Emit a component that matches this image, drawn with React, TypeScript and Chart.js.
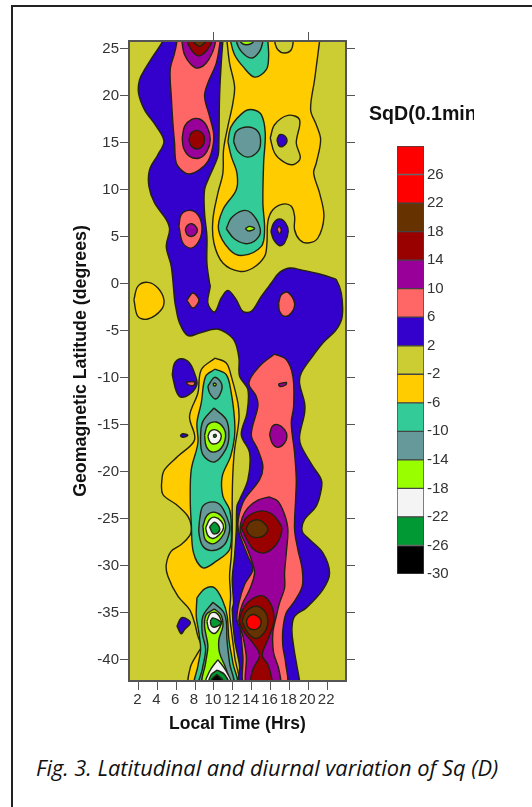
import React, { useEffect, useRef } from "react";
import { Chart, registerables } from "chart.js";

Chart.register(...registerables);

type P = [number, number];

// Colour levels, lowest to highest
const levelEdges = [-30, -26, -22, -18, -14, -10, -6, -2, 2, 6, 10, 14, 18, 22, 26, 30];
const levelColors = ["#000000", "#009933", "#F4F4F4", "#99FF00", "#669999", "#33CC99", "#FFCC00", "#CCCC33", "#3300CC", "#FF6666", "#990099", "#990000", "#663300", "#FF0000", "#FF0000"];
const [BLACK, GREEN, WHITE, LIME, GREY, TEAL, YELLOW, OLIVE, BLUE, SALMON, PURPLE, DKRED, BROWN, RED] = levelColors;

const hourTicks = [2, 4, 6, 8, 10, 12, 14, 16, 18, 20, 22];
const topTicks = [10, 20];
const latTicks = [25, 20, 15, 10, 5, 0, -5, -10, -15, -20, -25, -30, -35, -40];

// Contours: [local time, geomagnetic latitude]
const plotBase: P[] = [[0, -44], [25, -44], [25, 28], [0, 28]];
const blueMain: P[] = [[4.95, 26.67], [4.59, 25.81], [3.53, 24.18], [2.65, 22.77], [2.12, 21.7], [2.01, 20.28], [2.65, 18.5], [3.89, 16.74], [4.7, 15.14], [4.06, 13.72], [3.18, 12.13], [3.11, 10.35], [3.71, 8.58], [4.95, 6.81], [5.3, 5.74], [4.95, 3.97], [5.48, 1.84], [5.83, -1.7], [5.94, -2.41], [6.36, -4.18], [7.24, -5.53], [8.48, -5.25], [10.25, -4.82], [11.31, -5.25], [12.19, -6.13], [12.65, -7.91], [12.72, -9.86], [13.6, -11.28], [13.5, -13.76], [12.9, -16.06], [13.78, -18.0], [13.6, -20.85], [12.72, -22.98], [12.44, -23.67], [12.37, -26.16], [12.19, -28.99], [11.94, -31.47], [12.08, -33.96], [11.94, -34.67], [12.19, -37.86], [12.72, -40.69], [12.79, -42.82], [19.08, -42.82], [19.08, -42.25], [18.8, -40.69], [18.45, -38.57], [18.27, -36.79], [18.55, -35.38], [19.79, -34.49], [21.55, -32.54], [22.26, -30.77], [21.55, -28.64], [20.14, -27.22], [19.36, -26.33], [19.61, -25.09], [20.85, -23.67], [21.38, -21.9], [21.38, -20.85], [20.49, -19.43], [19.26, -17.3], [19.08, -16.24], [19.61, -13.76], [19.61, -12.69], [19.08, -10.57], [19.26, -9.5], [20.32, -7.91], [21.55, -6.31], [22.97, -4.89], [23.6, -3.47], [23.5, -0.99], [22.97, 0.43], [22.61, 0.6], [21.2, 1.03], [19.43, 1.42], [18.02, 1.67], [16.96, 1.2], [16.08, 0.07], [15.02, -1.35], [13.96, -2.94], [13.07, -2.94], [12.37, -1.7], [11.48, -0.71], [10.78, -1.52], [10.07, -3.01], [9.36, -2.06], [9.61, -0.28], [9.54, 0.07], [9.26, 2.2], [9.26, 5.03], [9.01, 7.52], [9.01, 10.0], [9.54, 11.42], [10.42, 13.54], [10.53, 14.96], [10.6, 19.93], [10.78, 23.47], [10.95, 25.81], [11.02, 26.67]];
const salmonNorth: P[] = [[6.08, 26.67], [6.08, 25.81], [5.83, 24.54], [5.37, 22.77], [5.48, 19.93], [5.65, 17.09], [5.83, 14.96], [6.01, 12.84], [6.71, 11.95], [7.42, 11.67], [8.48, 12.13], [9.36, 13.01], [9.89, 14.61], [9.96, 16.03], [9.54, 17.8], [9.01, 19.93], [9.36, 21.35], [10.25, 23.47], [10.67, 25.81], [10.78, 26.67]];
const purpleNorth: P[] = [[6.61, 26.67], [6.61, 25.81], [6.89, 24.36], [7.6, 23.3], [8.3, 22.94], [9.19, 23.47], [9.89, 24.72], [10.18, 25.81], [10.25, 26.67]];
const redNorth: P[] = [[7.17, 26.67], [7.17, 25.81], [7.6, 24.89], [8.3, 24.25], [9.01, 24.54], [9.54, 25.25], [9.79, 25.81], [9.82, 26.67]];
const brownNorth: P[] = [[7.84, 26.67], [7.84, 25.81], [8.48, 25.25], [9.12, 25.81], [9.12, 26.67]];
const purple15: P[] = [[6.64, 15.5], [6.89, 16.74], [7.6, 17.45], [8.48, 17.52], [9.26, 16.74], [9.61, 15.32], [9.26, 14.08], [8.48, 13.37], [7.42, 13.54], [6.78, 14.43]];
const red15: P[] = [[7.35, 15.39], [7.6, 16.03], [8.2, 16.31], [8.83, 15.96], [9.01, 15.32], [8.76, 14.61], [8.2, 14.33], [7.56, 14.68]];
const salmon5: P[] = [[6.29, 6.1], [6.54, 7.34], [7.42, 7.8], [8.3, 7.34], [8.73, 6.1], [8.48, 4.68], [7.6, 3.79], [6.71, 4.33]];
const purple5: P[] = [[6.96, 5.74], [7.17, 6.2], [7.67, 6.38], [8.2, 5.92], [8.2, 5.46], [7.7, 5.04], [7.17, 5.21]];
const salmonEq1: P[] = [[7.14, -1.77], [7.77, -0.99], [8.41, -1.77], [7.77, -2.59]];
const salmonEq2: P[] = [[16.86, -2.06], [17.14, -1.17], [17.84, -0.92], [18.55, -2.06], [18.2, -3.12], [17.49, -3.47], [16.96, -2.94]];
const blueS10: P[] = [[5.58, -9.68], [5.83, -8.44], [6.54, -7.98], [7.42, -8.44], [8.06, -9.86], [8.2, -10.74], [7.6, -11.63], [6.54, -12.09], [6.01, -11.45]];
const salmonS10: P[] = [[7.07, -10.46], [7.95, -10.46], [7.84, -10.82], [7.24, -10.74]];
const salmonSouth: P[] = [[16.43, -7.48], [17.67, -8.08], [18.37, -9.86], [18.45, -13.05], [18.2, -14.82], [18.55, -18.01], [18.73, -20.85], [18.66, -22.96], [18.55, -26.16], [18.9, -28.28], [19.36, -30.41], [19.36, -32.18], [18.55, -33.78], [17.67, -35.02], [17.31, -36.79], [17.31, -38.57], [17.6, -40.34], [17.6, -42.82], [13.36, -42.82], [13.07, -39.63], [12.79, -36.79], [12.44, -35.73], [12.65, -33.96], [13.25, -32.01], [14.13, -30.41], [13.6, -28.99], [12.72, -26.69], [12.54, -25.62], [12.72, -24.38], [13.25, -22.96], [14.84, -20.85], [15.19, -19.43], [14.66, -17.66], [13.96, -16.06], [14.66, -13.05], [14.49, -11.99], [13.71, -10.57], [14.84, -8.79]];
const purpleSouth: P[] = [[15.83, -22.68], [16.78, -23.14], [17.49, -24.56], [17.84, -26.16], [17.67, -28.64], [17.49, -30.77], [17.49, -32.36], [16.96, -33.96], [16.61, -35.38], [16.25, -37.15], [16.33, -39.28], [16.89, -41.05], [16.89, -42.82], [13.6, -42.82], [13.43, -39.63], [13.07, -37.5], [12.65, -35.91], [13.0, -34.13], [13.78, -32.54], [14.31, -30.77], [13.96, -29.35], [13.36, -27.75], [12.79, -26.33], [13.0, -24.91], [13.6, -23.85], [14.66, -23.03]];
const redS26: P[] = [[12.9, -25.98], [13.43, -24.91], [14.84, -24.2], [16.08, -24.45], [16.96, -25.45], [17.21, -26.23], [16.61, -27.75], [15.37, -28.64], [14.31, -28.35], [13.6, -27.4]];
const brownS26: P[] = [[13.43, -25.98], [13.85, -25.34], [14.84, -25.16], [15.72, -26.08], [15.19, -26.86], [14.13, -26.97], [13.6, -26.51]];
const redS36: P[] = [[12.65, -35.91], [13.25, -34.31], [14.66, -33.25], [15.55, -33.42], [16.25, -34.67], [16.33, -36.08], [15.72, -37.86], [15.12, -39.52], [15.72, -40.52], [16.18, -42.25], [16.18, -42.82], [13.96, -42.82], [14.13, -41.05], [14.84, -39.52], [14.13, -38.21], [13.25, -37.15]];
const brownS36: P[] = [[12.97, -35.91], [13.43, -34.84], [14.49, -34.31], [15.37, -34.84], [15.72, -35.91], [15.44, -36.97], [14.49, -37.75], [13.6, -37.15]];
const redCore: P[] = [[13.43, -35.91], [13.71, -35.38], [14.24, -35.2], [14.84, -35.55], [15.02, -36.08], [14.66, -36.69], [14.06, -36.79], [13.6, -36.51]];
const purpleS16: P[] = [[15.9, -16.06], [16.18, -15.18], [16.78, -15.0], [17.49, -15.53], [17.74, -16.24], [17.49, -16.95], [16.78, -17.41], [16.18, -16.95]];
const purpleSliver: P[] = [[16.86, -10.64], [17.67, -10.5], [17.6, -10.78], [16.96, -10.92]];
const blueSliver: P[] = [[6.43, -16.17], [6.71, -15.96], [7.24, -16.13], [6.71, -16.35]];
const blueS36: P[] = [[6.08, -36.44], [6.54, -35.55], [7.24, -35.73], [7.49, -36.16], [6.89, -36.79], [6.54, -37.25]];
const yellowNorth: P[] = [[11.24, 26.67], [11.38, 25.81], [11.66, 23.47], [12.19, 20.99], [12.01, 19.22], [11.48, 16.74], [11.02, 14.25], [10.95, 11.77], [10.42, 9.64], [9.89, 6.81], [10.0, 4.33], [10.95, 2.2], [12.72, 1.31], [14.13, 1.67], [15.37, 2.91], [15.62, 4.33], [15.72, 6.63], [16.25, 7.87], [17.31, 8.47], [18.2, 8.23], [18.55, 7.16], [18.55, 5.74], [19.08, 4.68], [19.96, 4.33], [21.02, 4.86], [21.66, 7.16], [21.2, 9.64], [20.57, 11.77], [20.85, 12.84], [21.31, 15.32], [20.85, 16.91], [20.25, 18.51], [20.67, 21.7], [21.2, 25.81], [21.27, 26.67]];
const oliveNotch: P[] = [[16.43, 26.67], [16.43, 25.81], [16.78, 24.89], [17.49, 24.54], [18.2, 24.89], [18.41, 25.81], [18.41, 26.67]];
const oliveIsland: P[] = [[15.97, 15.5], [16.43, 16.91], [17.84, 17.91], [19.08, 17.45], [18.73, 14.96], [19.15, 13.37], [18.37, 12.66], [17.31, 13.01], [16.43, 13.9]];
const blue15: P[] = [[16.68, 15.32], [16.96, 15.85], [17.49, 15.74], [17.74, 15.14], [17.31, 14.61], [16.89, 14.68]];
const blue5: P[] = [[16.04, 5.57], [16.33, 6.45], [16.96, 6.88], [17.6, 6.45], [17.88, 5.57], [17.49, 4.33], [16.96, 4.04], [16.33, 4.68]];
const salmonIn5: P[] = [[16.68, 5.74], [16.89, 6.1], [17.14, 5.74], [16.96, 5.32]];
const tealTop: P[] = [[11.7, 26.67], [11.77, 25.81], [12.19, 24.36], [13.07, 23.12], [14.31, 21.98], [15.55, 22.77], [15.8, 24.18], [15.72, 25.81], [15.72, 26.67]];
const greyTop: P[] = [[12.37, 26.67], [12.37, 25.81], [12.9, 24.72], [13.96, 24.0], [14.84, 24.72], [15.19, 25.81], [15.19, 26.67]];
const limeTop: P[] = [[12.79, 26.67], [12.79, 25.81], [13.43, 25.42], [14.24, 25.81], [14.24, 26.67]];
const tealNorth: P[] = [[11.48, 15.14], [11.84, 16.74], [13.25, 18.33], [14.13, 18.51], [15.02, 17.98], [15.44, 16.03], [15.27, 12.84], [15.19, 8.58], [15.37, 5.74], [15.02, 3.97], [13.07, 3.01], [11.66, 3.62], [10.49, 5.74], [10.95, 7.87], [12.37, 10.0], [12.44, 11.77], [11.84, 13.54]];
const grey15: P[] = [[12.08, 15.14], [12.37, 16.2], [13.6, 16.67], [14.66, 16.2], [14.95, 15.14], [14.66, 14.08], [13.6, 13.47], [12.54, 14.08]];
const grey5: P[] = [[11.31, 5.85], [11.84, 6.98], [13.07, 7.77], [13.96, 7.52], [14.84, 6.1], [14.77, 5.04], [13.6, 4.26], [12.19, 4.75]];
const lime5: P[] = [[13.32, 5.85], [13.78, 6.1], [14.31, 5.85], [13.71, 5.6]];
const yellowEq: P[] = [[1.52, -1.7], [1.94, -0.28], [3.0, 0.14], [4.06, -0.46], [4.7, -1.7], [4.42, -2.77], [3.0, -3.76], [1.94, -3.48]];
const yellowSouth: P[] = [[10.14, -7.91], [11.31, -8.44], [11.84, -9.86], [12.54, -12.69], [12.65, -14.47], [12.19, -17.66], [12.01, -20.14], [11.94, -22.96], [11.94, -26.51], [11.84, -28.99], [11.66, -31.12], [11.77, -33.25], [11.66, -35.02], [11.84, -36.79], [12.19, -39.63], [12.44, -42.82], [7.49, -42.82], [7.49, -40.87], [8.3, -39.28], [8.66, -38.57], [8.3, -37.5], [7.95, -36.08], [7.42, -34.67], [6.18, -33.25], [5.12, -31.12], [4.95, -29.88], [5.48, -28.46], [6.54, -27.75], [7.49, -26.69], [7.6, -25.8], [7.24, -24.74], [6.01, -23.5], [4.59, -22.43], [4.49, -20.85], [4.77, -19.79], [6.18, -18.37], [7.95, -16.6], [7.42, -14.11], [8.3, -11.63], [8.66, -9.15]];
const tealSouthA: P[] = [[10.14, -9.08], [11.31, -9.68], [11.84, -11.63], [12.19, -14.47], [12.19, -16.24], [11.77, -18.37], [10.88, -20.5], [10.95, -22.61], [11.66, -24.03], [11.84, -25.8], [11.66, -28.28], [10.25, -29.52], [8.83, -30.23], [7.84, -28.64], [7.6, -25.45], [7.49, -22.96], [7.6, -19.79], [8.3, -16.95], [8.2, -14.82], [8.66, -12.69], [9.12, -9.86]];
const tealSouthB: P[] = [[8.2, -33.42], [9.01, -32.47], [10.07, -32.36], [10.95, -33.78], [11.41, -35.38], [11.59, -37.86], [12.01, -40.34], [12.37, -42.82], [8.06, -42.82], [8.3, -40.69], [8.59, -38.92], [8.41, -37.15], [8.13, -35.38]];
const greyS11: P[] = [[9.36, -10.92], [10.07, -9.96], [10.78, -10.57], [10.78, -11.45], [10.18, -12.27], [9.54, -11.63]];
const limeS11: P[] = [[9.89, -10.71], [10.07, -10.57], [10.25, -10.71], [10.07, -10.89]];
const greyS16: P[] = [[10.0, -13.23], [11.31, -14.47], [11.59, -16.24], [11.24, -17.66], [10.07, -18.97], [8.83, -18.19], [8.59, -16.24], [8.83, -14.65]];
const limeS16: P[] = [[9.01, -16.13], [9.36, -15.0], [10.25, -14.72], [11.02, -15.35], [11.24, -16.24], [10.78, -17.48], [9.82, -17.91], [9.19, -17.31]];
const whiteS16: P[] = [[9.36, -16.24], [9.61, -15.71], [10.07, -15.53], [10.6, -15.81], [10.78, -16.24], [10.53, -16.84], [9.89, -17.06], [9.54, -16.77]];
const greenS16: P[] = [[9.93, -16.1], [10.18, -16.03], [10.25, -16.24], [10.04, -16.35]];
const greyS26: P[] = [[8.48, -25.09], [8.83, -23.67], [9.89, -23.21], [10.78, -23.67], [11.59, -25.45], [11.66, -26.33], [11.13, -27.75], [9.89, -28.39], [8.83, -27.93], [8.41, -26.51]];
const limeS26: P[] = [[8.83, -25.8], [9.26, -24.67], [10.07, -24.31], [10.95, -24.91], [11.24, -25.98], [10.78, -27.04], [9.89, -27.68], [9.08, -27.22]];
const whiteS26: P[] = [[9.12, -25.98], [9.54, -25.09], [10.07, -24.84], [10.78, -25.27], [11.02, -25.98], [10.6, -26.69], [9.89, -27.11], [9.36, -26.79]];
const greenS26: P[] = [[9.54, -25.87], [10.07, -25.37], [10.6, -25.98], [10.42, -26.51], [9.89, -26.58]];
const greyS36: P[] = [[9.89, -33.89], [10.95, -34.84], [11.31, -35.91], [11.38, -37.86], [11.66, -40.34], [12.01, -42.82], [8.48, -42.82], [8.76, -41.05], [9.12, -38.92], [8.76, -37.15], [8.83, -35.38]];
const limeS36: P[] = [[10.07, -34.6], [10.78, -35.3], [10.95, -36.44], [10.53, -37.86], [10.6, -39.28], [11.31, -41.05], [11.66, -42.82], [8.83, -42.82], [9.12, -40.34], [9.36, -38.57], [9.01, -36.44], [9.19, -35.2]];
const whiteS36: P[] = [[9.26, -35.91], [9.61, -35.09], [10.25, -35.02], [10.78, -35.91], [10.6, -36.62], [10.07, -37.22], [9.47, -36.79]];
const greenS36: P[] = [[9.61, -35.91], [9.89, -35.55], [10.78, -36.08], [10.07, -36.55], [9.72, -36.37]];
const whiteBottom: P[] = [[10.42, -39.99], [11.31, -41.23], [11.84, -42.82], [9.12, -42.82], [9.54, -41.23]];
const greenBottom: P[] = [[10.35, -41.12], [11.13, -41.58], [11.59, -42.82], [9.47, -42.82], [9.72, -41.58]];
const blackBottom: P[] = [[10.32, -41.58], [10.95, -42.18], [11.02, -42.82], [9.72, -42.82], [9.72, -42.18]];

// Painter's order: earlier entries lie underneath later ones
const layers: [P[], string][] = [
  [plotBase, OLIVE],
  [yellowNorth, YELLOW], [yellowEq, YELLOW], [yellowSouth, YELLOW],
  [oliveNotch, OLIVE], [oliveIsland, OLIVE],
  [blueMain, BLUE], [blueS10, BLUE], [blueSliver, BLUE], [blueS36, BLUE], [blue15, BLUE], [blue5, BLUE],
  [salmonNorth, SALMON], [salmon5, SALMON], [salmonEq1, SALMON], [salmonEq2, SALMON], [salmonS10, SALMON], [salmonSouth, SALMON], [salmonIn5, SALMON],
  [purpleNorth, PURPLE], [purple15, PURPLE], [purple5, PURPLE], [purpleSouth, PURPLE], [purpleS16, PURPLE], [purpleSliver, PURPLE],
  [redNorth, DKRED], [red15, DKRED], [redS26, DKRED], [redS36, DKRED],
  [brownNorth, BROWN], [brownS26, BROWN], [brownS36, BROWN],
  [redCore, RED],
  [tealTop, TEAL], [tealNorth, TEAL], [tealSouthA, TEAL], [tealSouthB, TEAL],
  [greyTop, GREY], [grey15, GREY], [grey5, GREY], [greyS11, GREY], [greyS16, GREY], [greyS26, GREY], [greyS36, GREY],
  [limeTop, LIME], [lime5, LIME], [limeS11, LIME], [limeS16, LIME], [limeS26, LIME], [limeS36, LIME],
  [whiteS16, WHITE], [whiteS26, WHITE], [whiteS36, WHITE], [whiteBottom, WHITE],
  [greenS16, GREEN], [greenS26, GREEN], [greenS36, GREEN], [greenBottom, GREEN],
  [blackBottom, BLACK],
];

const FONT = "'Liberation Sans', Arial, sans-serif";
const AXIS_COLOR = "#555555";
const TEXT_COLOR = "#333333";

const fixedTicks = (values: number[]) => (scale: any) => {
  scale.ticks = values.map((value) => ({ value }));
};
const fixedBox = (size: number, horizontal: boolean) => (scale: any) => {
  if (horizontal) scale.height = size;
  else scale.width = size;
  scale.paddingTop = scale.paddingBottom = scale.paddingLeft = scale.paddingRight = 0;
};
const edgeAxis = (extra: any) => ({
  border: { display: true, color: AXIS_COLOR, width: 2, z: 2 },
  grid: { drawOnChartArea: false, drawTicks: true, tickLength: 9, tickWidth: 1, tickColor: AXIS_COLOR },
  ...extra,
});
const tickStyle = {
  color: TEXT_COLOR,
  font: { family: FONT, size: 15 },
  autoSkip: false,
  maxRotation: 0,
  minRotation: 0,
  callback: (v: any) => String(v),
};

export default function App() {
  const plotRef = useRef<HTMLCanvasElement>(null);
  const barRef = useRef<HTMLCanvasElement>(null);

  useEffect(() => {
    const plot = new Chart(plotRef.current!, {
      type: "scatter",
      data: {
        datasets: layers.map(([pts, color], i) => ({
          data: [...pts, pts[0]].map(([x, y]) => ({ x, y })),
          showLine: true,
          fill: "shape",
          backgroundColor: color,
          borderColor: i === 0 ? color : "#222211",
          borderWidth: 1.4,
          tension: 0.35,
          pointRadius: 0,
          order: layers.length - i,
        })),
      } as any,
      options: {
        animation: false,
        responsive: false,
        events: [],
        plugins: { legend: { display: false }, tooltip: { enabled: false } },
        elements: { line: { capBezierPoints: false } },
        layout: { padding: 0 },
        scales: {
          x: edgeAxis({
            type: "linear", position: "bottom", min: 1, max: 24,
            afterBuildTicks: fixedTicks(hourTicks),
            afterFit: fixedBox(54, true),
            ticks: { ...tickStyle, padding: 1, labelOffset: -1 },
            title: { display: true, text: "Local Time (Hrs)", color: "#111111", font: { family: FONT, size: 17.5, weight: "bold" }, padding: 0 },
          }),
          xTop: edgeAxis({
            type: "linear", position: "top", min: 1, max: 24,
            afterBuildTicks: fixedTicks(topTicks),
            afterFit: fixedBox(41, true),
            ticks: { ...tickStyle, display: false },
          }),
          y: edgeAxis({
            type: "linear", position: "left", min: -42.27, max: 25.82,
            afterBuildTicks: fixedTicks(latTicks),
            afterFit: fixedBox(59, false),
            ticks: { ...tickStyle, padding: 1 },
            title: { display: true, text: "Geomagnetic Latitude (degrees)", color: "#111111", font: { family: FONT, size: 17.8, weight: "bold" }, padding: 0 },
          }),
          yRight: edgeAxis({
            type: "linear", position: "right", min: -42.27, max: 25.82,
            afterBuildTicks: fixedTicks(latTicks),
            afterFit: fixedBox(186, false),
            ticks: { ...tickStyle, display: false },
          }),
        },
      } as any,
    });

    const bar = new Chart(barRef.current!, {
      type: "bar",
      data: {
        labels: [""],
        datasets: levelColors.map((color, i) => ({
          data: [[levelEdges[i], levelEdges[i + 1]]],
          backgroundColor: color,
          borderColor: "#444444",
          borderWidth: 1,
          borderSkipped: false,
          barPercentage: 1,
          categoryPercentage: 1,
          grouped: false,
        })),
      } as any,
      options: {
        animation: false,
        responsive: false,
        events: [],
        plugins: { legend: { display: false }, tooltip: { enabled: false } },
        layout: { padding: { left: 7, top: 16, bottom: 26, right: 0 } },
        scales: {
          x: { display: false },
          y: {
            position: "right", min: -30, max: 30,
            afterBuildTicks: fixedTicks(levelEdges.slice(0, -1)),
            afterFit: fixedBox(56, false),
            border: { display: false },
            grid: { display: false, drawTicks: false },
            ticks: { ...tickStyle, padding: 3 },
          },
        },
      } as any,
    });

    return () => {
      plot.destroy();
      bar.destroy();
    };
  }, []);

  return (
    <div style={{ position: "absolute", left: 0, top: 0, width: 532, height: 807, overflow: "hidden", background: "#fff" }}>
      <div style={{ position: "absolute", left: 11, top: 5, width: 521, height: 2, background: "#222" }} />
      <div style={{ position: "absolute", left: 11, top: 5, width: 2, height: 802, background: "#222" }} />
      <canvas ref={plotRef} width={462} height={735} style={{ position: "absolute", left: 70, top: 0, display: "block" }} />
      <canvas ref={barRef} width={90} height={470} style={{ position: "absolute", left: 390, top: 130, display: "block" }} />
      <div style={{ position: "absolute", left: 369, top: 101, width: 105, height: 24, overflow: "hidden", whiteSpace: "nowrap", fontFamily: FONT, fontWeight: "bold", fontSize: 19.6, lineHeight: "24px", color: "#111" }}>
        SqD(0.1min)
      </div>
      <div style={{ position: "absolute", left: 36, top: 755, whiteSpace: "nowrap", fontFamily: "'Open Sans', sans-serif", fontStyle: "italic", fontSize: 21.8, lineHeight: "26px", color: "#111" }}>
        Fig. 3. Latitudinal and diurnal variation of Sq (D)
      </div>
    </div>
  );
}
